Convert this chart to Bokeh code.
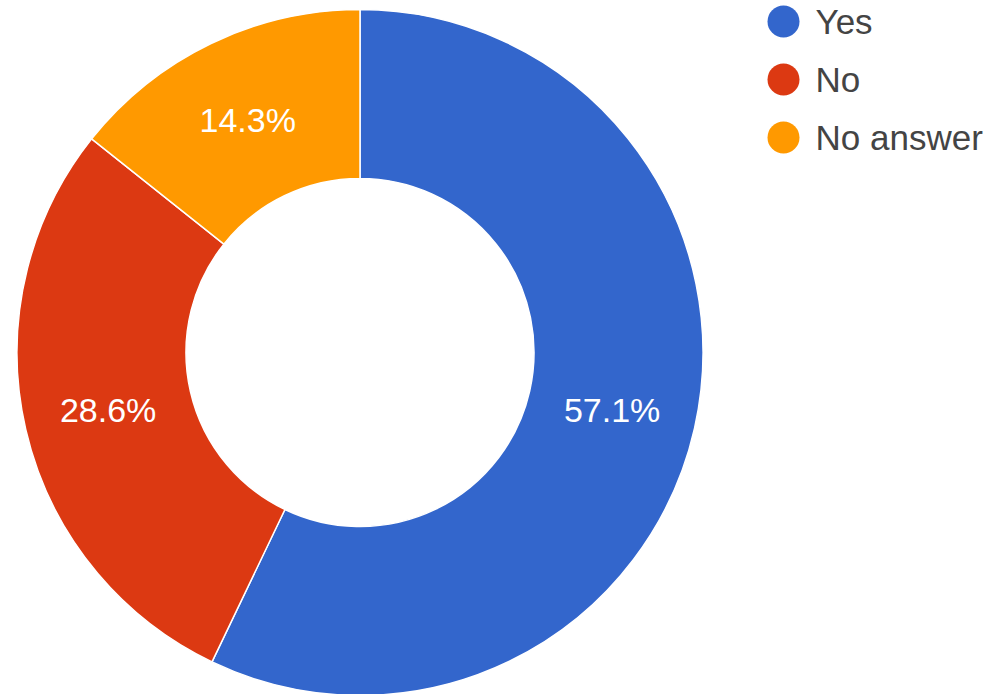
import math
from bokeh.plotting import figure
from bokeh.models import Range1d, ColumnDataSource
from bokeh.core.properties import value
from bokeh.embed import file_html
from bokeh.resources import INLINE

# ---- data ----
categories = ["Yes", "No", "No answer"]
percentages = [57.1, 28.6, 14.3]
colors = ["#3366CC", "#DC3912", "#FF9900"]

W, H = 1002, 694
CX, CY = 359.5, H - 352
R_OUT, R_IN = 343, 174

total = sum(percentages)
starts, ends, lx, ly, labels = [], [], [], [], []
cum = 0.0
for v in percentages:
    c0 = cum / total
    cum += v
    c1 = cum / total
    starts.append(math.pi / 2 - 2 * math.pi * c1)
    ends.append(math.pi / 2 - 2 * math.pi * c0)
    mid = math.pi / 2 - math.pi * (c0 + c1)
    rm = (R_OUT + R_IN) / 2
    lx.append(CX + rm * math.cos(mid))
    ly.append(CY + rm * math.sin(mid))
    labels.append(f"{v:.1f}%")

src = ColumnDataSource(dict(cat=categories, start=starts, end=ends, color=colors,
                            lx=lx, ly=ly, label=labels))

p = figure(width=W, height=H, output_backend="svg", toolbar_location=None,
           x_range=Range1d(0, W), y_range=Range1d(0, H), min_border=0)
p.axis.visible = False
p.grid.visible = False
p.outline_line_color = None
p.background_fill_color = "white"
p.border_fill_color = "white"

p.annular_wedge(x=CX, y=CY, inner_radius=R_IN, outer_radius=R_OUT,
                start_angle="start", end_angle="end", fill_color="color",
                line_color="white", line_width=1.5, source=src)

p.text(x="lx", y="ly", text="label", source=src, text_color="white",
       text_font=value("Liberation Sans"), text_font_size="34px",
       text_align="center", text_baseline="middle")

# ---- legend (manual) ----
LEG_X, LEG_Y0, LEG_DY = 783, H - 21, 58
leg = ColumnDataSource(dict(
    x=[LEG_X] * len(categories),
    y=[LEG_Y0 - i * LEG_DY for i in range(len(categories))],
    tx=[LEG_X + 32] * len(categories),
    cat=categories, color=colors))
p.scatter(x="x", y="y", size=32, fill_color="color", line_color=None, source=leg)
p.text(x="tx", y="y", text="cat", source=leg, text_color="#444444",
       text_font=value("Liberation Sans"), text_font_size="35px",
       text_align="left", text_baseline="middle")

open("out.html", "w").write(file_html(p, INLINE))
